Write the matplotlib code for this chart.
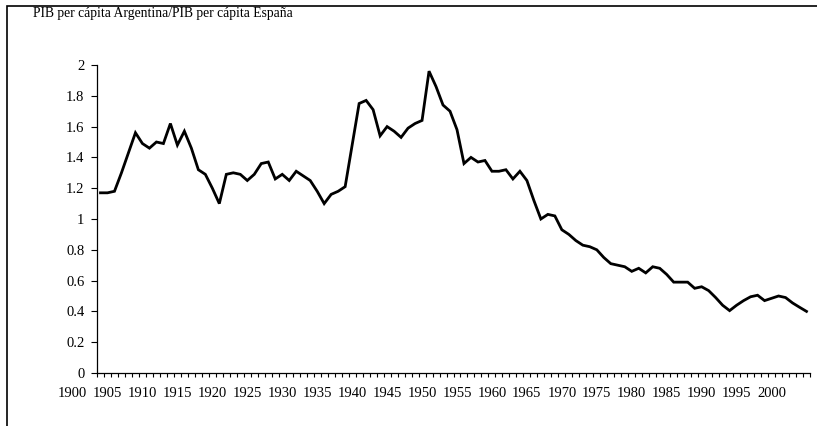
import numpy as np
import matplotlib
matplotlib.use('Agg')
import matplotlib.pyplot as plt
from matplotlib.patches import Rectangle

plt.rcParams['font.family'] = ['Liberation Serif', 'DejaVu Serif']

# datos (1904-2005)
years = list(range(1904, 2006))
ratio = [1.17, 1.17, 1.18, 1.30, 1.43, 1.56, 1.49, 1.46, 1.50, 1.49,
         1.62, 1.48, 1.57, 1.46, 1.32, 1.29, 1.20, 1.10, 1.29, 1.30,
         1.29, 1.25, 1.29, 1.36, 1.37, 1.26, 1.29, 1.25, 1.31, 1.28,
         1.25, 1.18, 1.10, 1.16, 1.18, 1.21, 1.48, 1.75, 1.77, 1.71,
         1.54, 1.60, 1.57, 1.53, 1.59, 1.62, 1.64, 1.96, 1.86, 1.74,
         1.70, 1.58, 1.36, 1.40, 1.37, 1.38, 1.31, 1.31, 1.32, 1.26,
         1.31, 1.25, 1.12, 1.00, 1.03, 1.02, 0.93, 0.90, 0.86, 0.83,
         0.82, 0.80, 0.75, 0.71, 0.70, 0.69, 0.66, 0.68, 0.65, 0.69,
         0.68, 0.64, 0.59, 0.59, 0.59, 0.55, 0.56, 0.535, 0.49, 0.44,
         0.405, 0.44, 0.47, 0.495, 0.505, 0.47, 0.485, 0.50, 0.49, 0.455,
         0.427, 0.40]
label_years = list(range(1900, 2001, 5))
y_ticks = [0, 0.2, 0.4, 0.6, 0.8, 1, 1.2, 1.4, 1.6, 1.8, 2]
titulo = 'PIB per cápita Argentina/PIB per cápita España'

fig = plt.figure(figsize=(8.17, 4.26), dpi=100)
ax = fig.add_axes([97/817, 1 - 373/426, 713/817, 308/426])

ax.plot(years, ratio, color='black', linewidth=2.0, solid_joinstyle='miter')

ax.set_xlim(years[0] - 0.5, years[-1] + 0.5)
ax.set_ylim(0, 2)

# marcas entre categorias (estilo Excel)
ax.set_xticks(np.arange(years[0] - 0.5, years[-1] + 1, 1))
ax.set_xticklabels([])
ax.tick_params(axis='x', direction='out', length=3, width=0.8, color='black')
for yr in label_years:
    ax.text(yr, -0.066, str(yr), transform=ax.get_xaxis_transform(),
            ha='center', va='center', fontsize=10.5, clip_on=False)

ax.set_yticks(y_ticks)
ax.set_yticklabels(['%g' % v for v in y_ticks], fontsize=10.5)
ax.tick_params(axis='y', direction='out', length=4, width=0.8, color='black', pad=5)

for s in ['top', 'right']:
    ax.spines[s].set_visible(False)
for s in ['left', 'bottom']:
    ax.spines[s].set_linewidth(0.9)

fig.text(33/817, 1 - 14/426, titulo, ha='left', va='center', fontsize=9.8)

# marco del grafico
fig.add_artist(Rectangle((7/817, -0.05), 1.1, 1 - 6/426 + 0.05,
                         transform=fig.transFigure, fill=False,
                         edgecolor='black', linewidth=1.2))

fig.savefig('out.png', dpi=100)
